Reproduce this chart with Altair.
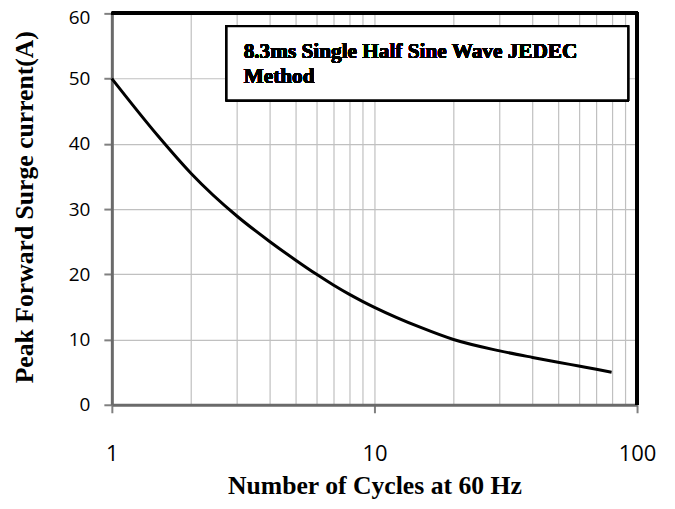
import altair as alt
import pandas as pd

# Data
cycles = [1, 1.5, 2, 3, 4, 5, 6, 7, 8, 9, 10, 15, 20, 30, 40, 50, 60, 70, 80]
current = [50, 41.2, 35.5, 28.9, 25.0, 22.2, 20.03, 18.32, 16.96, 15.86, 14.94,
           11.85, 10.0, 8.26, 7.26, 6.53, 5.94, 5.44, 5.0]
x_grid = [1, 2, 3, 4, 5, 6, 7, 8, 9, 10, 20, 30, 40, 50, 60, 70, 80, 90, 100]
y_ticks = [0, 10, 20, 30, 40, 50, 60]
note_lines = ["8.3ms Single Half Sine Wave JEDEC", "Method"]

W, H = 526, 392

df = pd.DataFrame({"cycles": cycles, "current": current})

decade = "datum.value == 1 || datum.value == 10 || datum.value == 100"

x_enc = alt.X(
    "cycles:Q",
    scale=alt.Scale(type="log", domain=[1, 100], nice=False),
    axis=alt.Axis(
        values=x_grid,
        title="Number of Cycles at 60 Hz",
        labelExpr=f"({decade}) ? format(datum.value, 'd') : ''",
        labelFont="Open Sans", labelFontSize=22, labelColor="#000000",
        labelBaseline="alphabetic", labelPadding=48, labelFlush=False,
        tickSize=8, tickWidth=2, tickColor="#808080",
        tickOpacity={"condition": {"test": decade, "value": 1}, "value": 0},
        grid=True, gridColor="#c0c0c0", gridWidth=1.2,
        domainColor="#6a6a6a", domainWidth=3,
        titleFont="Liberation Serif", titleFontWeight="bold", titleFontSize=25.7,
        titleColor="#000000", titleBaseline="alphabetic", titleY=89,
    ),
)
y_enc = alt.Y(
    "current:Q",
    scale=alt.Scale(domain=[0, 60], nice=False),
    axis=alt.Axis(
        values=y_ticks,
        title="Peak Forward Surge current(A)",
        labelFont="Open Sans", labelFontSize=19, labelColor="#000000",
        labelPadding=14, labelFlush=False,
        labelOffset={"condition": {"test": "datum.value == 60", "value": 4}, "value": 0},
        tickSize=8, tickWidth=2, tickColor="#808080",
        grid=True, gridColor="#c0c0c0", gridWidth=1.2,
        domainColor="#6a6a6a", domainWidth=3,
        titleFont="Liberation Serif", titleFontWeight="bold", titleFontSize=25.7,
        titleColor="#000000", titleBaseline="alphabetic", titleAlign="left",
        titleAngle=270, titleX=-79, titleY=370,
    ),
)

curve = alt.Chart(df).mark_line(
    color="#000000", strokeWidth=3, interpolate="monotone"
).encode(x=x_enc, y=y_enc)

top_border = alt.Chart(df).mark_rule(color="#000000", strokeWidth=3).encode(
    x=alt.value(0), x2=alt.value(W + 1), y=alt.value(0)
)
right_border = alt.Chart(df).mark_rule(color="#000000", strokeWidth=3).encode(
    x=alt.value(W), y=alt.value(-1), y2=alt.value(H)
)

box = alt.Chart(df).mark_rect(
    fill="#ffffff", stroke="#000000", strokeWidth=2
).encode(
    x=alt.value(115), x2=alt.value(517), y=alt.value(13), y2=alt.value(87)
)
note = alt.Chart(df).mark_text(
    text=note_lines, align="left", baseline="alphabetic", lineHeight=25,
    font="Liberation Serif", fontWeight="bold", fontSize=21.3, color="#000000"
).encode(x=alt.value(132), y=alt.value(45))

chart = alt.layer(curve, top_border, right_border, box, note).properties(
    width=W, height=H,
    autosize=alt.AutoSizeParams(type="none"),
    padding={"left": 104, "top": 5, "right": 30, "bottom": 96},
).configure_view(stroke=None).configure(background="#ffffff")

chart.save("out.html", embed_options={"renderer": "svg", "actions": False})
